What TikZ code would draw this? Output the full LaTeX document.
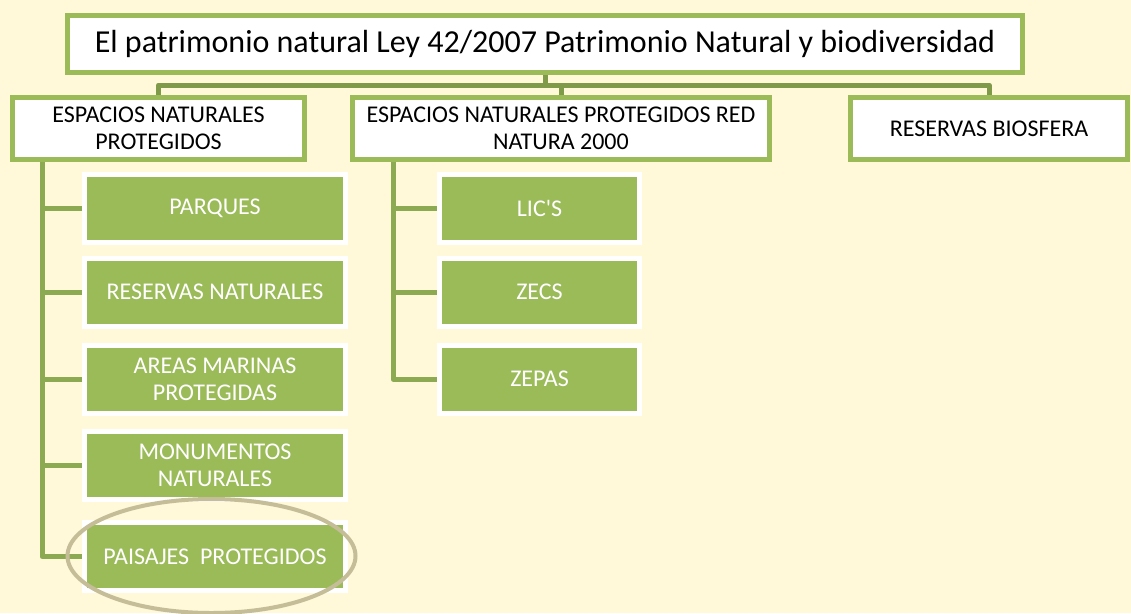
\documentclass[tikz,border=0pt]{standalone}
\usepackage{fontspec}
\setmainfont{Carlito}
\definecolor{bg}{HTML}{FFF8D9}
\definecolor{gr}{HTML}{9BBB59}
\definecolor{grline}{HTML}{8CAA52}
\definecolor{grdark}{HTML}{7F9A48}
\definecolor{tan}{HTML}{C4BD97}
\begin{document}
\begin{tikzpicture}[x=1pt,y=-1pt,
  topbox/.style={draw=gr,fill=white,line width=5pt,text=black,align=center,inner sep=0pt},
  leaf/.style={draw=white,fill=gr,line width=5pt,text=white,align=center,inner sep=0pt,
    minimum height=68pt,font=\fontsize{24}{27}\selectfont},
  conn/.style={draw=grline,line width=5pt},
  bus/.style={draw=grdark,line width=5pt}]
\fill[bg] (0,0) rectangle (1131,613);
\useasboundingbox (0,0) rectangle (1131,613);
\node[topbox,minimum width=955pt,minimum height=57pt,font=\fontsize{32}{36}\selectfont] (title) at (545,44) {El patrimonio natural Ley 42/2007 Patrimonio Natural y biodiversidad};
\node[topbox,minimum width=292pt,minimum height=62pt,font=\fontsize{24}{27}\selectfont] (enp) at (158.5,128.5) {ESPACIOS NATURALES\\PROTEGIDOS};
\node[topbox,minimum width=417pt,minimum height=62pt,font=\fontsize{24}{27}\selectfont] (rn) at (561,128.5) {ESPACIOS NATURALES PROTEGIDOS RED\\NATURA 2000};
\node[topbox,minimum width=277pt,minimum height=62pt,font=\fontsize{24}{27}\selectfont] (rb) at (989,128.5) {RESERVAS BIOSFERA};
% bus
\coordinate (busy) at (0,85);
\draw[bus] (title.south) -- (title.south |- busy);
\draw[bus,line join=round] (enp.north) -- (enp.north |- busy) -- (rb.north |- busy) -- (rb.north);
\draw[bus] (rn.north |- busy) -- (rn.north);
% left children
\node[leaf,minimum width=261pt] (p1) at (215,208.5) {PARQUES};
\node[leaf,minimum width=261pt] (p2) at (215,292) {RESERVAS NATURALES};
\node[leaf,minimum width=261pt] (p3) at (215,379) {AREAS MARINAS\\PROTEGIDAS};
\node[leaf,minimum width=261pt] (p4) at (215,465.5) {MONUMENTOS\\NATURALES};
\node[leaf,minimum width=261pt] (p5) at (215,556.5) {PAISAJES\ \ PROTEGIDOS};
\coordinate (s1) at (42,162);
\draw[conn,line join=round] (s1) |- (p5.west);
\foreach \n in {p1,p2,p3,p4} \draw[conn] (s1 |- \n.west) -- (\n.west);
% right children
\node[leaf,minimum width=200pt] (r1) at (539.5,208.5) {LIC\textquotesingle S};
\node[leaf,minimum width=200pt] (r2) at (539.5,292) {ZECS};
\node[leaf,minimum width=200pt] (r3) at (539.5,379) {ZEPAS};
\coordinate (s2) at (393,162);
\draw[conn,line join=round] (s2) |- (r3.west);
\foreach \n in {r1,r2} \draw[conn] (s2 |- \n.west) -- (\n.west);
% highlight ellipse
\draw[tan,line width=4pt] (211.5,556) ellipse [x radius=144pt,y radius=57pt];
\end{tikzpicture}
\end{document}
